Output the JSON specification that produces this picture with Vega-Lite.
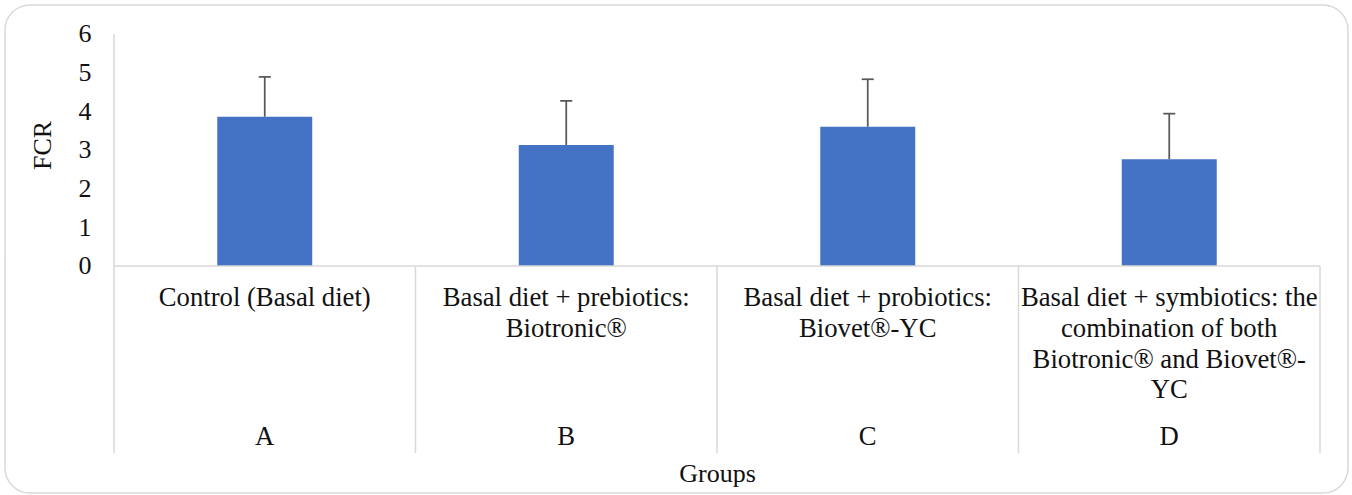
{
  "$schema": "https://vega.github.io/schema/vega-lite/v6.json",
  "width": 1343,
  "height": 488,
  "autosize": {"type": "none"},
  "padding": {"left": 5, "top": 5, "right": 4, "bottom": 2},
  "background": "white",
  "config": {
    "view": {"stroke": "#d9d9d9", "strokeWidth": 1.5, "cornerRadius": 25},
    "font": "Liberation Serif, serif",
    "text": {"font": "Liberation Serif, serif"},
    "axis": {"labelFont": "Liberation Serif, serif", "titleFont": "Liberation Serif, serif"}
  },
  "data": {
    "values": [
      {"group": "A", "label": "Control (Basal diet)", "fcr": 3.86, "upper": 4.89},
      {"group": "B", "label": "Basal diet + prebiotics:\nBiotronic®", "fcr": 3.13, "upper": 4.27},
      {"group": "C", "label": "Basal diet + probiotics:\nBiovet®-YC", "fcr": 3.6, "upper": 4.83},
      {"group": "D", "label": "Basal diet + symbiotics: the\ncombination of both\nBiotronic® and Biovet®-\nYC", "fcr": 2.76, "upper": 3.94}
    ]
  },
  "encoding": {
    "x": {
      "field": "group",
      "type": "nominal",
      "sort": null,
      "scale": {"paddingInner": 0, "paddingOuter": 0.2272, "align": 0.7956},
      "axis": {
        "orient": "bottom",
        "labels": false,
        "ticks": false,
        "domain": false,
        "grid": false,
        "title": "Groups",
        "titleFont": "Liberation Serif, serif",
        "titleFontSize": 26,
        "titleFontWeight": "normal",
        "titleColor": "#111111",
        "titleBaseline": "middle",
        "titleX": 712,
        "titleY": -20
      }
    }
  },
  "layer": [
    {
      "mark": {"type": "bar", "color": "#4472C4", "width": {"band": 0.315}},
      "encoding": {
        "y": {
          "field": "fcr",
          "type": "quantitative",
          "scale": {"domain": [-5.871, 6.75], "nice": false, "zero": false},
          "axis": {
            "orient": "left",
            "offset": -109,
            "values": [0, 1, 2, 3, 4, 5, 6],
            "domain": false,
            "ticks": false,
            "tickSize": 0,
            "grid": false,
            "labelPadding": 23,
            "labelFont": "Liberation Serif, serif",
            "labelFontSize": 26,
            "labelColor": "#111111",
            "title": "FCR",
            "titleFont": "Liberation Serif, serif",
            "titleFontSize": 26,
            "titleFontWeight": "normal",
            "titleColor": "#111111",
            "titleAngle": -90,
            "titleAlign": "center",
            "titleBaseline": "middle",
            "titleX": -71.5,
            "titleY": 140
          }
        },
        "y2": {"datum": 0}
      }
    },
    {
      "mark": {"type": "rule", "color": "#595959", "strokeWidth": 1.75},
      "encoding": {
        "y": {"field": "fcr", "type": "quantitative"},
        "y2": {"field": "upper"}
      }
    },
    {
      "mark": {"type": "tick", "orient": "horizontal", "color": "#595959", "size": 12, "thickness": 1.75, "opacity": 1},
      "encoding": {
        "y": {"field": "upper", "type": "quantitative"}
      }
    },
    {
      "mark": {"type": "tick", "orient": "horizontal", "color": "#d9d9d9", "size": 301.5, "thickness": 1.5, "opacity": 1},
      "encoding": {
        "y": {"datum": 0, "type": "quantitative"}
      }
    },
    {
      "mark": {"type": "rule", "color": "#d9d9d9", "strokeWidth": 1.5},
      "encoding": {
        "x": {"field": "group", "type": "nominal", "sort": null, "bandPosition": 1},
        "y": {"datum": 0, "type": "quantitative"},
        "y2": {"datum": -4.84}
      }
    },
    {
      "transform": [{"filter": "datum.group === 'A'"}],
      "mark": {"type": "rule", "color": "#d9d9d9", "strokeWidth": 1.5},
      "encoding": {
        "x": {"field": "group", "type": "nominal", "sort": null, "bandPosition": 0},
        "y": {"datum": 6, "type": "quantitative"},
        "y2": {"datum": -4.84}
      }
    },
    {
      "mark": {"type": "text", "baseline": "top", "align": "center", "lineBreak": "\n", "lineHeight": 30.7, "fontSize": 26.7, "font": "Liberation Serif, serif", "color": "#111111"},
      "encoding": {
        "y": {"datum": -0.5, "type": "quantitative"},
        "text": {"field": "label", "type": "nominal"}
      }
    },
    {
      "mark": {"type": "text", "baseline": "middle", "align": "center", "fontSize": 26.7, "font": "Liberation Serif, serif", "color": "#111111"},
      "encoding": {
        "y": {"datum": -4.42, "type": "quantitative"},
        "text": {"field": "group", "type": "nominal"}
      }
    }
  ]
}
